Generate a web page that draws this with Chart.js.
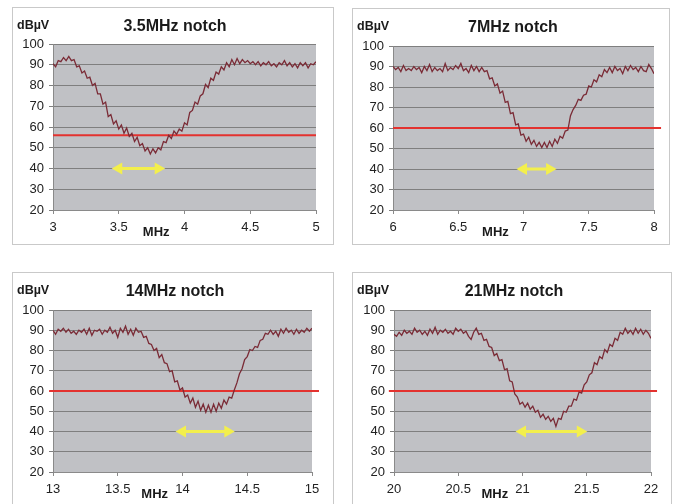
<!DOCTYPE html>
<html>
<head>
<meta charset="utf-8">
<script src="https://cdn.jsdelivr.net/npm/chart.js@4.4.1/dist/chart.umd.min.js"></script>
<style>
  html, body { margin: 0; padding: 0; background: #ffffff; width: 677px; height: 504px; overflow: hidden; }
  .panel { position: absolute; border: 1px solid #c9c9c9; background: #ffffff; }
  canvas { display: block; }
</style>
</head>
<body>
<div class="panel" style="left:12px;top:7px;width:320px;height:236px;"><canvas id="c1" width="320" height="236"></canvas></div>
<div class="panel" style="left:352px;top:8px;width:316px;height:235px;"><canvas id="c2" width="316" height="235"></canvas></div>
<div class="panel" style="left:12px;top:272px;width:320px;height:238px;"><canvas id="c3" width="320" height="238"></canvas></div>
<div class="panel" style="left:352px;top:272px;width:318px;height:238px;"><canvas id="c4" width="318" height="238"></canvas></div>
<script>
// ---- data ----
const titles = ["3.5MHz notch", "7MHz notch", "14MHz notch", "21MHz notch"];
const sweepStart = [3, 6, 13, 20];      // MHz, first sweep point
const sweepStep = 0.02;                 // MHz between sweep points
const axisMin = [3, 6, 13, 20];
const axisMax = [5, 8, 15, 22];
const yTicks = [20, 30, 40, 50, 60, 70, 80, 90, 100];

const notch35 = [90.5,89,92,91.5,93.5,92,94,92,92.5,89,89.5,86,87,83.5,84,80,81,76,76,71,72,65,66,61.5,63,59,61,57,59.5,55.5,57,53,55,51,52,48.5,50,47,49.5,47.5,50,49,53,52.5,56,54.5,58,56.5,59,58,62,61,67,68,72,71,75,76,80.5,79,83.5,82.5,86.5,85.5,89,87.5,91,89,92.5,90,93,90.5,92.5,91,92,90.5,91.5,90,91.5,89.5,91,90,91.5,89.5,90.5,89,91,90,92,89.5,91,89,90.5,88.5,91,89.5,91,88.5,90.5,90,91.5];
const notch7 = [90,88.5,89.5,87.5,90.5,88,89,88,90,88.5,89.5,87,90,88,91,87.5,89.5,88,89,87.5,91.5,88,89.5,88.5,90.5,89,91.5,88,89,87,90.5,88,90,87.5,89.5,87.5,88,84,84.5,80.5,81.5,77,78,72.5,73,67,67.5,61.5,62,56.5,57,53.5,55.5,52,54,51,53,50.5,53,50.5,53.5,51,54.5,52.5,56,55,58.5,59,66,69,71,74,73.5,76,76.5,80.5,80,83.5,82.5,86,85,88.5,87,89.5,87,90,88,89,86.5,90,88,90.5,88.5,89.5,87.5,90,88,87.5,91,89,86.5];
const notch14 = [90,88,90.5,89.5,91,89,90.5,88.5,89.5,88,90,89,90.5,88,91,87.5,90,89.5,90.5,88,90,89,91.5,88.5,90,86.5,91,89,92,88,90.5,87.5,91,89,89.5,86.5,87,83.5,83,80,81,76.5,78,74,73.5,69.5,70,64.5,65,60.5,61.5,57,58,54,56.5,52,55,50.5,53.5,49.5,53,49.5,53.5,50,54,51.5,55.5,53.5,57,56.5,60.5,64,68.5,71,75.5,77,80.5,80,82,81.5,85,85.5,88.5,88,90,88,89.5,87,90.5,88.5,91,89,90,88,90.5,88.5,90,89,91,89.5,91];
const notch21 = [88,87,89,87.5,90,88.5,89.5,88,91,89,90,88,89.5,87.5,90.5,88.5,91.5,88,90,89,90.5,88.5,89.5,88,91,89.5,90.5,88.5,89.5,87,85.5,89,91,88,88.5,85,85.5,82,81.5,77.5,78.5,75,75.5,70.5,71,65,64.5,58.5,57,53.5,54.5,52,54,51,52.5,49.5,50.5,47,48.5,46,47.5,45,46.5,42.5,46.5,46,50,49.5,52.5,52.5,56,55.5,59.5,59,63,64.5,68,69,74,73,77,76,80.5,79,83,82,86,85,89,88,91,88.5,90,88,91,88.5,90.5,88,90,88.5,86];
const curves = [notch35, notch7, notch14, notch21];

const limitLevel = [56, 60, 60, 60];                       // dBµV red limit line
const limitSpan = [[3, 5], [6, 8.054], [12.97, 15.054], [19.96, 22.047]];
const bandEdges = [[3.5, 3.8], [7.0, 7.2], [14.0, 14.35], [21.0, 21.45]];
const bandLevel = 40;

// ---- layout (pixels, not data) ----
const layoutCfg = [
  {top: 36, right: 17, left: 40, bottom: 34},
  {top: 37, right: 15, left: 40, bottom: 34},
  {top: 37, right: 21, left: 40, bottom: 39},
  {top: 37, right: 20, left: 41, bottom: 39}
];

const FONT = "'Liberation Sans', Arial, Helvetica, sans-serif";

const decor = {
  id: 'decor',
  beforeDraw(chart) {
    const {ctx, chartArea: a} = chart;
    ctx.save();
    ctx.fillStyle = '#c0c1c5';
    ctx.fillRect(a.left, a.top, a.right - a.left, a.bottom - a.top);
    ctx.restore();
  },
  afterDraw(chart, args, opts) {
    const {ctx, chartArea: a, width} = chart;
    const xs = chart.scales.x;
    ctx.save();
    ctx.fillStyle = '#1a1a1a';
    ctx.textBaseline = 'middle';
    ctx.font = 'bold 16px ' + FONT;
    ctx.textAlign = 'center';
    ctx.fillText(opts.title, width / 2 + 2, 19);
    ctx.font = 'bold 12.5px ' + FONT;
    ctx.textAlign = 'left';
    ctx.fillText('dBµV', 4, 18);
    ctx.font = 'bold 13px ' + FONT;
    ctx.textAlign = 'center';
    ctx.fillText('MHz', xs.getPixelForValue(opts.mhzAt), a.bottom + 22);
    ctx.restore();
  }
};

function build(k) {
  const lay = layoutCfg[k];
  const curveData = curves[k].map((v, i) => ({x: +(sweepStart[k] + i * sweepStep).toFixed(3), y: v}));
  const ctx = document.getElementById('c' + (k + 1)).getContext('2d');
  new Chart(ctx, {
    type: 'line',
    data: {
      datasets: [
        {data: curveData, borderColor: '#7a2b36', borderWidth: 1.3, pointRadius: 0, tension: 0},
        {data: [{x: limitSpan[k][0], y: limitLevel[k]}, {x: limitSpan[k][1], y: limitLevel[k]}],
         borderColor: '#e3322f', borderWidth: 2, pointRadius: 0, clip: false},
        {data: [{x: bandEdges[k][0], y: bandLevel}, {x: bandEdges[k][1], y: bandLevel}],
         borderColor: '#f3ef4c', borderWidth: 3, pointStyle: 'triangle', pointRadius: 4,
         pointRotation: [-90, 90], pointBackgroundColor: '#f3ef4c', pointBorderColor: '#f3ef4c', clip: false}
      ]
    },
    options: {
      responsive: false,
      animation: false,
      events: [],
      layout: {padding: {top: lay.top, right: lay.right, left: 0, bottom: 0}},
      plugins: {
        legend: {display: false},
        tooltip: {enabled: false},
        title: {display: false},
        decor: {title: titles[k], mhzAt: axisMin[k] + 0.785}
      },
      scales: {
        x: {
          type: 'linear', min: axisMin[k], max: axisMax[k],
          afterFit(s) { s.height = lay.bottom; },
          grid: {display: true, drawOnChartArea: false, drawTicks: true, tickLength: 4, color: '#8a8a8a'},
          border: {display: true, color: '#8a8a8a'},
          ticks: {stepSize: 0.5, autoSkip: false, maxRotation: 0, padding: 6, color: '#222',
                  font: {family: FONT, size: 13},
                  callback: (v) => String(Math.round(v * 100) / 100)}
        },
        y: {
          min: 20, max: 100,
          afterFit(s) { s.width = lay.left; },
          afterBuildTicks(s) { s.ticks = yTicks.map(v => ({value: v})); },
          grid: {color: '#7f7f7f', drawTicks: true, tickLength: 4},
          border: {display: true, color: '#8a8a8a'},
          ticks: {padding: 5, color: '#222', font: {family: FONT, size: 13}}
        }
      }
    },
    plugins: [decor]
  });
}
for (let k = 0; k < 4; k++) build(k);
</script>
</body>
</html>
